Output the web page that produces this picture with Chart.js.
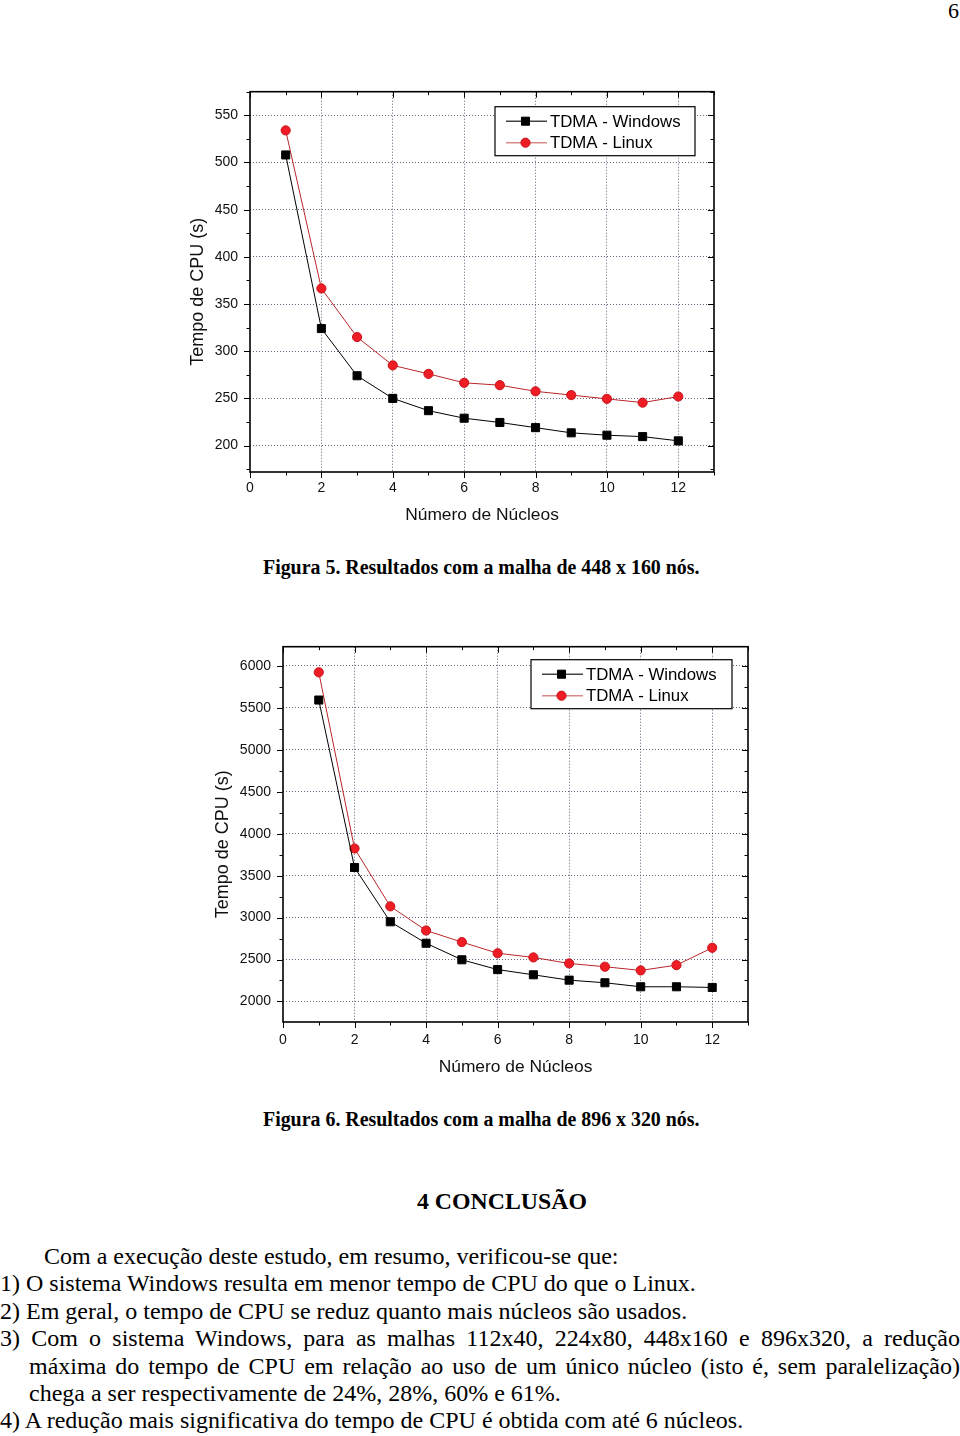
<!DOCTYPE html>
<html>
<head>
<meta charset="utf-8">
<script src="https://cdn.jsdelivr.net/npm/chart.js@4.4.1/dist/chart.umd.min.js"></script>
<style>
  body { margin: 0; background: #fff; width: 960px; height: 1436px; position: relative; overflow: hidden;
         font-family: "Liberation Serif", "Times New Roman", serif; color: #000; }
  .abs { position: absolute; white-space: nowrap; }
  .chartbox { position: absolute; }
  .cap { font-weight: bold; font-size: 19.9px; line-height: 22px; }
  .txt { font-size: 24px; line-height: 28px; }
  .just { text-align: justify; text-align-last: justify; }
</style>
</head>
<body>
<div class="abs" style="right:1px; top:-2px; font-size:22px; line-height:26px;">6</div>

<div class="chartbox" style="left:180px; top:85px; width:550px; height:450px;"><canvas id="chart448"></canvas></div>
<div class="abs cap" style="left:263px; top:556px;">Figura 5. Resultados com a malha de 448 x 160 nós.</div>

<div class="chartbox" style="left:200px; top:640px; width:560px; height:450px;"><canvas id="chart896"></canvas></div>
<div class="abs cap" style="left:263px; top:1108px;">Figura 6. Resultados com a malha de 896 x 320 nós.</div>

<div class="abs" style="left:417px; top:1187px; font-weight:bold; font-size:23.8px; line-height:28px;">4 CONCLUSÃO</div>

<div class="abs txt" style="left:44px; top:1242px;">Com a execução deste estudo, em resumo, verificou-se que:</div>
<div class="abs txt" style="left:0; top:1269px;">1) O sistema Windows resulta em menor tempo de CPU do que o Linux.</div>
<div class="abs txt" style="left:0; top:1297px;">2) Em geral, o tempo de CPU se reduz quanto mais núcleos são usados.</div>
<div class="abs txt just" style="left:0; top:1324px; width:960px;">3) Com o sistema Windows, para as malhas 112x40, 224x80, 448x160 e 896x320, a redução</div>
<div class="abs txt just" style="left:29px; top:1352px; width:931px;">máxima do tempo de CPU em relação ao uso de um único núcleo (isto é, sem paralelização)</div>
<div class="abs txt" style="left:29px; top:1379px;">chega a ser respectivamente de 24%, 28%, 60% e 61%.</div>
<div class="abs txt" style="left:0; top:1406px;">4) A redução mais significativa do tempo de CPU é obtida com até 6 núcleos.</div>

<script>
// number of cores on the x axis
const nucleos = [1, 2, 3, 4, 5, 6, 7, 8, 9, 10, 11, 12];

// Figura 5 - malha 448 x 160 (CPU time, s)
const windows448 = [508, 324, 274, 250, 237, 229, 224.5, 219, 213.5, 211, 209.5, 205];
const linux448 = [534, 366.5, 315, 285, 276, 266.5, 264, 257.5, 253.5, 249.5, 245.5, 252];

// Figura 6 - malha 896 x 320 (CPU time, s)
const windows896 = [5594, 3597, 2950, 2694, 2497, 2380, 2318, 2254, 2223, 2175, 2175, 2167];
const linux896 = [5925, 3824, 3134, 2846, 2708, 2575, 2525, 2453, 2414, 2370, 2433, 2640];

const seriesNames = ['TDMA - Windows', 'TDMA - Linux'];

const GRID_COLOR = 'rgba(70, 70, 100, 0.85)';
const SANS = '"Liberation Sans", Arial, sans-serif';

// every multiple of step inside [min, max]
function stepTicks(min, max, step) {
    const out = [];
    for (let v = Math.ceil(min / step) * step; v <= max + 1e-9; v += step) out.push({ value: v });
    return out;
}

// frame, inward ticks on top/right, minor ticks, and the boxed legend inside the plot
const framePlugin = {
    id: 'frame',
    afterDatasetsDraw(chart, args, opts) {
        const ctx = chart.ctx;
        const a = chart.chartArea;
        const xs = chart.scales.x, ys = chart.scales.y;
        ctx.save();
        ctx.strokeStyle = '#000';
        ctx.lineWidth = 1;
        ctx.beginPath();
        xs.ticks.forEach(t => {
            const px = Math.round(xs.getPixelForValue(t.value)) + 0.5;
            const len = t.value % opts.xMajor === 0 ? 6 : 3.5;
            ctx.moveTo(px, a.bottom); ctx.lineTo(px, a.bottom + len);
            ctx.moveTo(px, a.top); ctx.lineTo(px, a.top + len);
        });
        ys.ticks.forEach(t => {
            const py = Math.round(ys.getPixelForValue(t.value)) + 0.5;
            const len = t.value % opts.yMajor === 0 ? 6 : 3.5;
            ctx.moveTo(a.left, py); ctx.lineTo(a.left - len, py);
            ctx.moveTo(a.right, py); ctx.lineTo(a.right - len, py);
        });
        ctx.stroke();
        ctx.lineWidth = 1.6;
        ctx.strokeRect(a.left, a.top, a.right - a.left, a.bottom - a.top);

        // legend box
        const lb = opts.legendBox;
        const bx = a.left + lb.left, by = a.top + lb.top;
        ctx.fillStyle = '#fff';
        ctx.fillRect(bx, by, lb.width, lb.height);
        ctx.lineWidth = 1.2;
        ctx.strokeStyle = '#000';
        ctx.strokeRect(bx, by, lb.width, lb.height);
        chart.data.datasets.forEach((ds, i) => {
            const y = by + 14.5 + i * 21.5;
            ctx.strokeStyle = ds.legendLine;
            ctx.lineWidth = 1.5;
            ctx.beginPath();
            ctx.moveTo(bx + 11, y); ctx.lineTo(bx + 52, y);
            ctx.stroke();
            ctx.fillStyle = ds.pointBackgroundColor;
            ctx.strokeStyle = ds.pointBorderColor;
            ctx.lineWidth = 1;
            Chart.helpers.drawPoint(ctx, {
                pointStyle: ds.pointStyle, radius: ds.pointRadius, rotation: 0, borderWidth: 1
            }, bx + 30.5, y);
            ctx.fillStyle = '#000';
            ctx.font = '16.8px ' + SANS;
            ctx.textBaseline = 'middle';
            ctx.textAlign = 'left';
            ctx.fillText(ds.label, bx + 55, y + 1);
        });
        ctx.restore();
    }
};

function toPoints(values) {
    return nucleos.map((n, i) => ({ x: n, y: values[i] }));
}

function makeChart(id, winValues, linValues, cfg) {
    const ctx = document.getElementById(id).getContext('2d');
    return new Chart(ctx, {
        type: 'line',
        data: {
            datasets: [{
                label: seriesNames[0],
                data: toPoints(winValues),
                borderColor: '#000',
                borderWidth: 1,
                legendLine: '#444',
                pointStyle: 'rect',
                pointRadius: 5.7,
                pointBackgroundColor: '#000',
                pointBorderColor: '#000',
                pointBorderWidth: 1,
                tension: 0
            }, {
                label: seriesNames[1],
                data: toPoints(linValues),
                borderColor: '#b8262a',
                borderWidth: 1,
                legendLine: '#d88a8a',
                pointStyle: 'circle',
                pointRadius: 4.6,
                pointBackgroundColor: '#ee1c24',
                pointBorderColor: '#c8141c',
                pointBorderWidth: 1,
                tension: 0
            }]
        },
        plugins: [framePlugin],
        options: {
            responsive: true,
            maintainAspectRatio: false,
            animation: false,
            events: [],
            layout: { padding: cfg.padding },
            plugins: {
                legend: { display: false },
                tooltip: { enabled: false },
                frame: { xMajor: 2, yMajor: cfg.yMajor, legendBox: cfg.legendBox }
            },
            scales: {
                x: {
                    type: 'linear',
                    min: 0,
                    max: 13,
                    border: { display: false, dash: [1, 2] },
                    grid: {
                        drawTicks: false,
                        lineWidth: 1,
                        color: c => (c.tick && c.tick.value % 2 === 0 && c.tick.value > 0 && c.tick.value < 13) ? GRID_COLOR : 'rgba(0,0,0,0)'
                    },
                    afterBuildTicks: s => { s.ticks = stepTicks(0, 13, 1); },
                    ticks: {
                        autoSkip: false,
                        maxRotation: 0,
                        padding: cfg.xPad,
                        color: '#111',
                        font: { family: SANS, size: 14 },
                        callback: v => v % 2 === 0 ? String(v) : ''
                    },
                    title: {
                        display: true,
                        text: 'Número de Núcleos',
                        color: '#111',
                        font: { family: SANS, size: 17.4 },
                        padding: { top: 0, bottom: cfg.xTitlePad }
                    },
                    afterFit: s => { s.height = cfg.xHeight; s.paddingLeft = 0; s.paddingRight = 0; }
                },
                y: {
                    type: 'linear',
                    min: cfg.yMin,
                    max: cfg.yMax,
                    border: { display: false, dash: [1, 2] },
                    grid: {
                        drawTicks: false,
                        lineWidth: 1,
                        color: c => (c.tick && c.tick.value % cfg.yMajor === 0) ? GRID_COLOR : 'rgba(0,0,0,0)'
                    },
                    afterBuildTicks: s => { s.ticks = stepTicks(cfg.yMin, cfg.yMax, cfg.yMajor / 2); },
                    ticks: {
                        autoSkip: false,
                        padding: 12,
                        color: '#111',
                        font: { family: SANS, size: 14 },
                        callback: v => v % cfg.yMajor === 0 ? String(v) : ''
                    },
                    title: {
                        display: true,
                        // trailing spaces push the rotated title a little below the plot centre, as in the original
                        text: 'Tempo de CPU (s)\u00a0\u00a0\u00a0\u00a0',
                        color: '#111',
                        font: { family: SANS, size: 18 },
                        padding: { top: 4, bottom: 0 }
                    },
                    afterFit: s => { s.width = cfg.yWidth; s.paddingTop = 0; s.paddingBottom = 0; }
                }
            }
        }
    });
}

makeChart('chart448', windows448, linux448, {
    yMin: 172, yMax: 575, yMajor: 50,
    padding: { left: 3, top: 6, right: 16, bottom: 5 },
    yWidth: 67, xHeight: 58, xPad: 8, xTitlePad: 4,
    legendBox: { left: 245, top: 15, width: 200, height: 49 }
});

makeChart('chart896', windows896, linux896, {
    yMin: 1755, yMax: 6230, yMajor: 500,
    padding: { left: 8, top: 6, right: 12, bottom: 5 },
    yWidth: 75, xHeight: 63, xPad: 10, xTitlePad: 7,
    legendBox: { left: 248, top: 13, width: 201, height: 49 }
});
</script>
</body>
</html>
